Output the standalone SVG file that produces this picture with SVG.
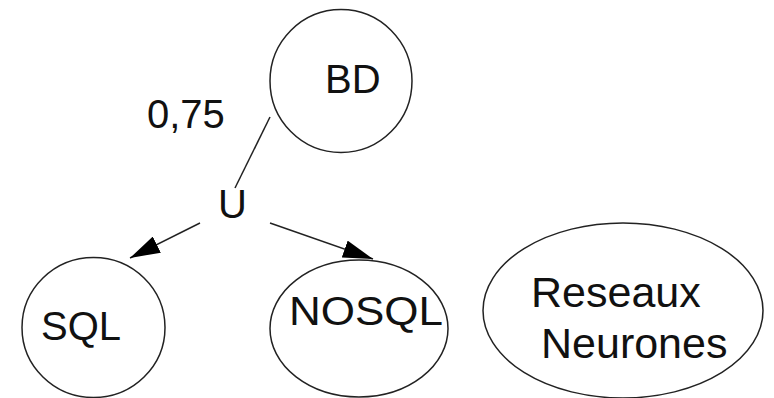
<svg xmlns="http://www.w3.org/2000/svg" width="774" height="398" viewBox="0 0 774 398">
  <defs>
    <marker id="arrow" viewBox="0 0 30 18" refX="30" refY="9" markerWidth="30" markerHeight="18" markerUnits="userSpaceOnUse" orient="auto">
      <path d="M0,0 L30,9 L0,18 Z" fill="#000"/>
    </marker>
    <style>
      .shape { fill: #fff; stroke: #222; stroke-width: 1.5; }
      .label { font-family: "Liberation Sans", Arial, sans-serif; font-size: 40px; fill: #111; }
      .edge { stroke: #222; stroke-width: 1.5; fill: none; }
    </style>
  </defs>
  <rect width="774" height="398" fill="#fff"/>

  <g id="connectors">
    <line class="edge" x1="270" y1="117" x2="235" y2="188"/>
    <line class="edge" x1="200" y1="223" x2="130" y2="258" marker-end="url(#arrow)"/>
    <line class="edge" x1="270" y1="223" x2="373" y2="259" marker-end="url(#arrow)"/>
  </g>

  <g id="node-bd">
    <ellipse class="shape" cx="341" cy="81" rx="71" ry="71.5"/>
    <text class="label" x="325" y="93">BD</text>
  </g>

  <g id="label-weight">
    <text class="label" x="147" y="128">0,75</text>
  </g>

  <g id="node-union">
    <text class="label" x="218" y="218">U</text>
  </g>

  <g id="node-sql">
    <ellipse class="shape" cx="93.5" cy="327.5" rx="71.5" ry="70"/>
    <text class="label" x="41" y="340">SQL</text>
  </g>

  <g id="node-nosql">
    <ellipse class="shape" cx="359" cy="328.5" rx="89" ry="68.5"/>
    <text class="label" x="289" y="325" textLength="154" lengthAdjust="spacingAndGlyphs">NOSQL</text>
  </g>

  <g id="node-reseaux">
    <ellipse class="shape" cx="623" cy="310.5" rx="140" ry="87.5"/>
    <text class="label" x="531" y="307" style="font-size:43px">Reseaux</text>
    <text class="label" x="541" y="358" style="font-size:43px">Neurones</text>
  </g>
</svg>
